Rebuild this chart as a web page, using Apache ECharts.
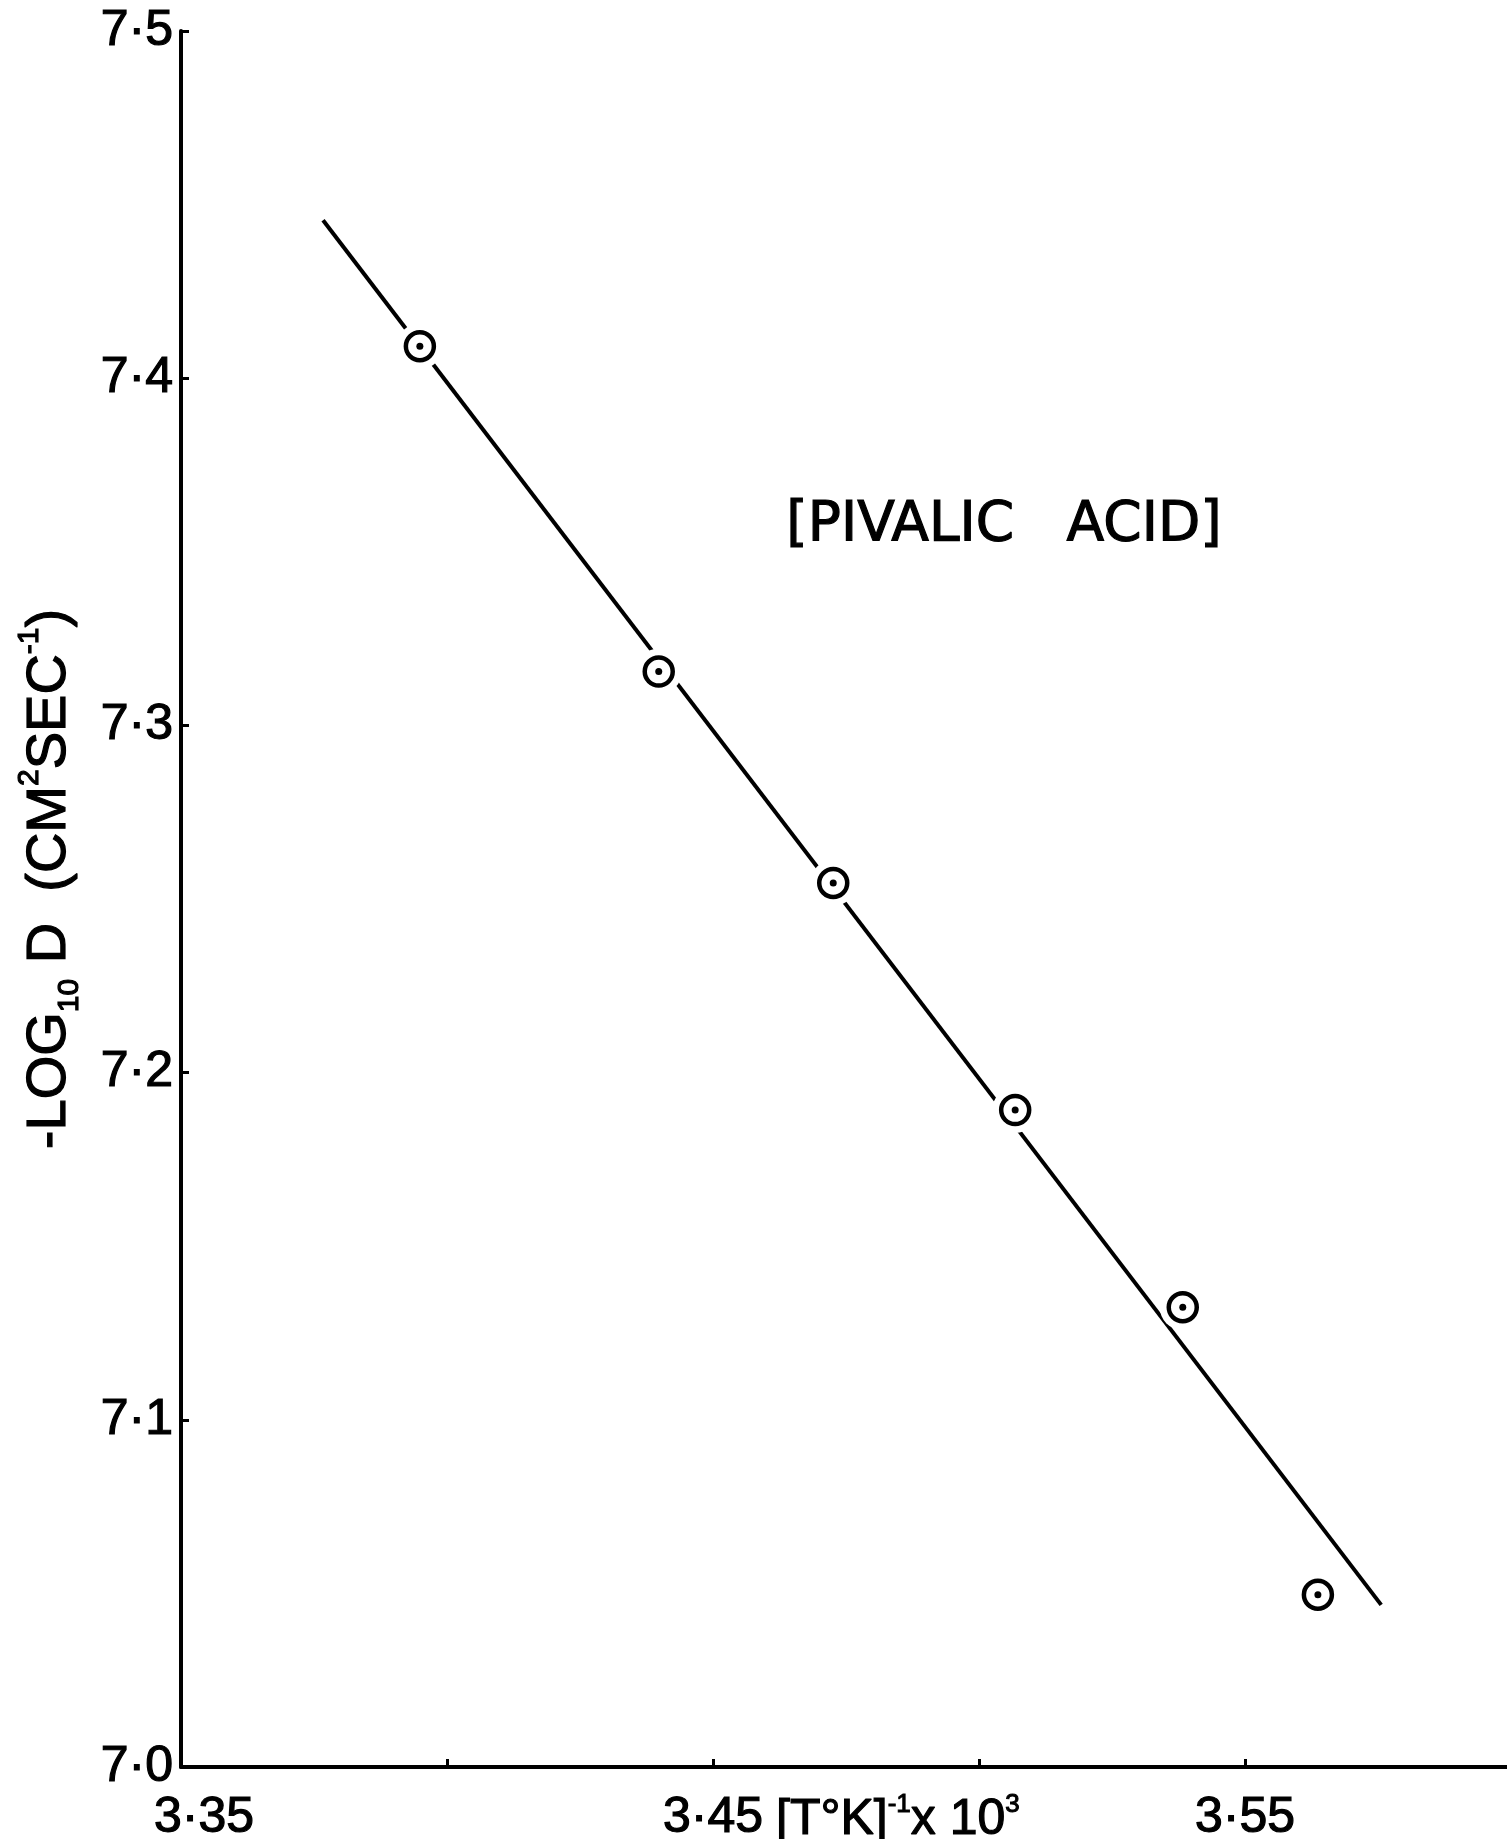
<!DOCTYPE html>
<html><head><meta charset="utf-8">
<script src="https://cdn.jsdelivr.net/npm/echarts@6/dist/echarts.min.js"></script>
<style>html,body{margin:0;padding:0;background:#fff}#c{width:1507px;height:1839px}</style>
</head><body><div id="c"></div>
<script>
// Data
const tempInv = [3.3949, 3.4398, 3.4726, 3.5068, 3.5383, 3.5637];   // (1/T K) x 10^3
const negLogD = [7.4092, 7.3155, 7.2546, 7.1892, 7.1324, 7.0496];   // -log10 D
const fitX = [3.3767, 3.5756];
const fitY = [7.4455, 7.0467];
const xTickValues = [3.35, 3.45, 3.55];
const xTickLabels = ['{first|3·35}', '3·45', '3·55'];
const yTickValues = [7.0, 7.1, 7.2, 7.3, 7.4, 7.5];
const yTickLabels = ['7·0', '7·1', '7·2', '7·3', '7·4', '7·5'];

const FONT = 'Liberation Sans';
const INK = {textBorderColor: '#000', textBorderWidth: 1.2};
const points = tempInv.map((x, i) => [x, negLogD[i]]);
const fitLine = fitX.map((x, i) => [x, fitY[i]]);
function lookup(vals, labels, v) {
  for (let i = 0; i < vals.length; i++) if (Math.abs(vals[i] - v) < 1e-6) return labels[i];
  return '';
}

const chart = echarts.init(document.getElementById('c'), null, {renderer: 'canvas'});
chart.setOption({
  backgroundColor: '#fff',
  animation: false,
  grid: {left: 181, top: 31, bottom: 72, right: -4, containLabel: false, outerBoundsMode: 'none'},
  xAxis: {
    type: 'value', min: 3.35, max: 3.6, interval: 0.05,
    axisLine: {show: true, lineStyle: {color: '#000', width: 4}},
    axisTick: {show: true, inside: true, length: 8, lineStyle: {color: '#000', width: 3}},
    splitLine: {show: false},
    axisLabel: Object.assign({
      color: '#000', fontSize: 50, fontFamily: FONT, margin: 26,
      formatter: v => lookup(xTickValues, xTickLabels, v),
      showMinLabel: true, showMaxLabel: true,
      rich: {first: Object.assign({fontSize: 50, fontFamily: FONT, color: '#000', padding: [0, 0, 0, 46]}, INK)}
    }, INK)
  },
  yAxis: {
    type: 'value', min: 7.0, max: 7.5, interval: 0.1,
    axisLine: {show: true, lineStyle: {color: '#000', width: 4}},
    axisTick: {show: true, inside: true, length: 8, lineStyle: {color: '#000', width: 3}},
    splitLine: {show: false},
    axisLabel: Object.assign({
      color: '#000', fontSize: 50, fontFamily: FONT, margin: 8,
      formatter: v => lookup(yTickValues, yTickLabels, v),
      showMinLabel: true, showMaxLabel: true
    }, INK),
    name: '-LOG{sub|10} D  (CM{sup|2}SEC{sup|-1})',
    nameLocation: 'middle', nameRotate: 90, nameGap: 96,
    nameTextStyle: Object.assign({
      color: '#000', fontSize: 56, fontFamily: FONT, lineHeight: 70,
      padding: [0, 0, 0, 40],
      rich: {
        sub: Object.assign({fontSize: 30, fontFamily: FONT, color: '#000', verticalAlign: 'bottom', lineHeight: 70}, INK),
        sup: Object.assign({fontSize: 30, fontFamily: FONT, color: '#000', verticalAlign: 'top', lineHeight: 70}, INK)
      }
    }, INK)
  },
  graphic: [
    {
      type: 'text', x: 1004, y: 526,
      style: {text: '[PIVALIC   ACID]', font: '55px "DejaVu Sans"', fill: '#000', stroke: '#000', lineWidth: 1.2,
              align: 'center', verticalAlign: 'middle'}
    },
    {
      type: 'text', x: 776, y: 1820,
      style: {
        text: '[T°K]{sup|-1}x 10{sup|3}', fontSize: 50, fontFamily: FONT, fill: '#000', stroke: '#000', lineWidth: 1.2,
        align: 'left', verticalAlign: 'middle', lineHeight: 56,
        rich: {sup: {fontSize: 26, fontFamily: FONT, fill: '#000', stroke: '#000', lineWidth: 1, verticalAlign: 'top', lineHeight: 56}}
      }
    }
  ],
  series: [
    {
      type: 'line', data: fitLine, symbol: 'none', z: 1,
      lineStyle: {color: '#000', width: 4, opacity: 1}
    },
    {
      type: 'scatter', data: points, symbol: 'circle', symbolSize: 46, z: 2, silent: true,
      itemStyle: {color: '#fff', borderWidth: 0, opacity: 1}
    },
    {
      type: 'scatter', data: points, symbol: 'circle', symbolSize: 28, z: 3,
      itemStyle: {color: '#fff', borderColor: '#000', borderWidth: 4.5, opacity: 1}
    },
    {
      type: 'scatter', data: points, symbol: 'circle', symbolSize: 7, z: 4,
      itemStyle: {color: '#000', borderWidth: 0, opacity: 1}
    }
  ]
});
</script>
</body></html>
